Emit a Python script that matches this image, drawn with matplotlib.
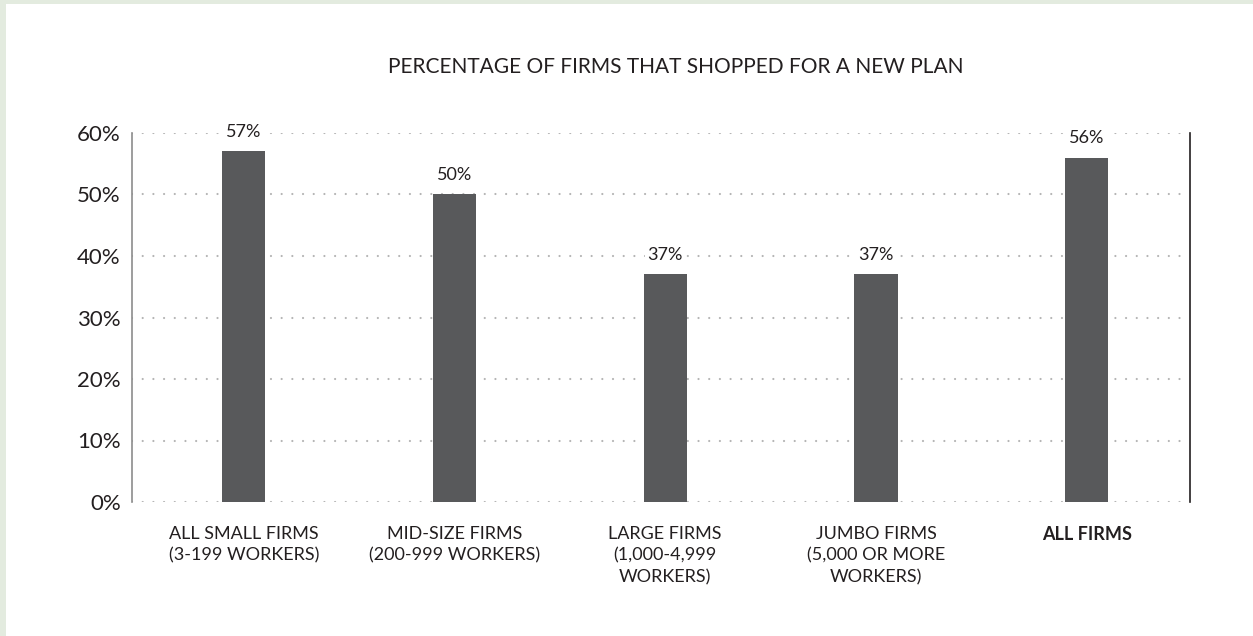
import matplotlib.pyplot as plt
import matplotlib.patches as patches

categories = [
    "ALL SMALL FIRMS\n(3-199 WORKERS)",
    "MID-SIZE FIRMS\n(200-999 WORKERS)",
    "LARGE FIRMS\n(1,000-4,999\nWORKERS)",
    "JUMBO FIRMS\n(5,000 OR MORE\nWORKERS)",
    "ALL FIRMS",
]
shopped = [57, 50, 37, 37, 56]
yticks = [0, 10, 20, 30, 40, 50, 60]

plt.rcParams["font.family"] = ["Lato", "DejaVu Sans"]

TEXT = "#231f20"
BAR = "#58595b"
DOT = "#b4b4b4"

fig = plt.figure(figsize=(12.53, 6.36), dpi=100)
fig.patch.set_facecolor("white")

# light green frame on the top and left edges
fig.patches.append(patches.Rectangle((0, 0), 6 / 1253, 1, transform=fig.transFigure,
                                     facecolor="#e3ebdf", edgecolor="none", zorder=0))
fig.patches.append(patches.Rectangle((0, 1 - 4 / 636), 1, 4 / 636, transform=fig.transFigure,
                                     facecolor="#e3ebdf", edgecolor="none", zorder=0))

ax = fig.add_axes([132 / 1253, 134 / 636, (1190 - 132) / 1253, (502 - 133) / 636])
x = list(range(len(categories)))

# dotted guide lines, the 0% one doubles as the baseline
for t in yticks:
    ax.axhline(t, color=DOT, lw=1.6, dashes=(0.01, 4.8), dash_capstyle="round", zorder=1)

ax.bar(x, shopped, width=0.205, color=BAR, zorder=3)

for xi, v in zip(x, shopped):
    ax.annotate(f"{v}%", (xi, v), xytext=(0, 14), textcoords="offset points",
                ha="center", va="center", fontsize=13, color=TEXT, zorder=4,
                bbox=dict(boxstyle="square,pad=0.15", facecolor="white", edgecolor="none"))

ax.set_xlim(-0.53, 4.49)
ax.set_ylim(0, 60)
ax.set_yticks(yticks)
ax.set_yticklabels([f"{t}%" for t in yticks], fontsize=16, color=TEXT)
ax.set_xticks(x)
ax.set_xticklabels(categories, fontsize=13, color=TEXT, linespacing=1.45, va="top")
ax.get_xticklabels()[-1].set_fontweight("bold")
ax.tick_params(axis="both", length=0)
ax.tick_params(axis="y", pad=8)
ax.tick_params(axis="x", pad=17)

for side in ["top", "bottom"]:
    ax.spines[side].set_visible(False)
ax.spines["left"].set_color("#8c8c8c")
ax.spines["left"].set_linewidth(1.2)
ax.spines["right"].set_color(TEXT)
ax.spines["right"].set_linewidth(1.2)

fig.text(676 / 1253, 1 - 67 / 636, "PERCENTAGE OF FIRMS THAT SHOPPED FOR A NEW PLAN",
         ha="center", va="center", fontsize=15, color=TEXT)

fig.savefig("out.png", dpi=100, facecolor="white")
